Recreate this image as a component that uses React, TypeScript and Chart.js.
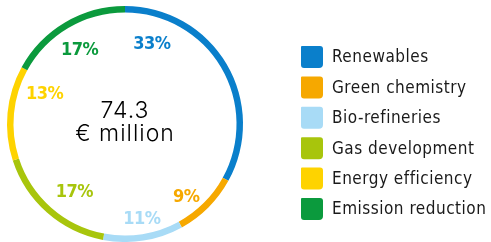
import React, { useEffect, useRef } from "react";
import { Chart, registerables } from "chart.js";

Chart.register(...registerables);

const categories = [
  "Renewables",
  "Green chemistry",
  "Bio-refineries",
  "Gas development",
  "Energy efficiency",
  "Emission reduction",
];
const shares = [33, 9, 11, 17, 13, 17];
const shareLabels = ["33%", "9%", "11%", "17%", "13%", "17%"];
const colors = ["#0a7fcb", "#f6a800", "#a8dbf6", "#a8c50c", "#fed300", "#0b9a3d"];
const centerLines = ["74.3", "€ million"];
// where along each arc its label sits (0 = start, 1 = end) and how far inside the ring
const labelAlong = [0.155, 0.65, 0.47, 0.43, 0.83, 0.49];
const labelInset = [33, 23, 22.5, 34, 32, 30.5];

const labelPlugin = {
  id: "customLabels",
  afterDraw(chart: any) {
    const ctx = chart.ctx;
    const meta = chart.getDatasetMeta(0);
    ctx.save();
    ctx.textAlign = "center";
    ctx.textBaseline = "middle";
    meta.data.forEach((arc: any, i: number) => {
      const { x, y, startAngle, endAngle, outerRadius } = arc.getProps(
        ["x", "y", "startAngle", "endAngle", "outerRadius"],
        true
      );
      const a = startAngle + (endAngle - startAngle) * labelAlong[i];
      const r = outerRadius - labelInset[i];
      ctx.fillStyle = colors[i];
      ctx.font = "bold 18px 'DejaVu Sans Condensed', 'Liberation Sans Narrow', sans-serif";
      (ctx as any).letterSpacing = "-0.5px";
      ctx.fillText(shareLabels[i], x + r * Math.cos(a), y + r * Math.sin(a) + 1);
    });
    // center
    const c = meta.data[0];
    ctx.fillStyle = "#000";
    ctx.font = "300 23px Inter, 'DejaVu Sans', sans-serif";
    (ctx as any).letterSpacing = "1px";
    ctx.fillText(centerLines[0], c.x, c.y - 13);
    ctx.fillText(centerLines[1], c.x, c.y + 10);
    // legend
    const lx = 301;
    const ly = 46;
    const step = 30.4;
    categories.forEach((cat, i) => {
      const top = ly + i * step;
      ctx.fillStyle = colors[i];
      ctx.beginPath();
      (ctx as any).roundRect(lx, top, 22, 22, [1, 3, 4, 3]);
      ctx.fill();
      ctx.fillStyle = "#1a1a1a";
      ctx.textAlign = "left";
      ctx.font = "17px 'DejaVu Sans Condensed', sans-serif";
      (ctx as any).letterSpacing = "0.5px";
      ctx.fillText(cat, 332, top + 12);
    });
    ctx.restore();
  },
};

export default function App() {
  const ref = useRef<HTMLCanvasElement>(null);
  useEffect(() => {
    document.body.style.margin = "0";
    const chart = new Chart(ref.current!, {
      type: "doughnut",
      data: {
        labels: categories,
        datasets: [
          {
            data: shares,
            backgroundColor: colors,
            borderWidth: 0,
          },
        ],
      },
      options: {
        animation: false,
        responsive: false,
        cutout: "94.5%",
        layout: { padding: { left: 7, top: 6, right: 248, bottom: 0 } },
        plugins: { legend: { display: false }, tooltip: { enabled: false } },
      },
      plugins: [labelPlugin],
    });
    return () => chart.destroy();
  }, []);
  return <canvas ref={ref} width={491} height={242} style={{ display: "block" }} />;
}
